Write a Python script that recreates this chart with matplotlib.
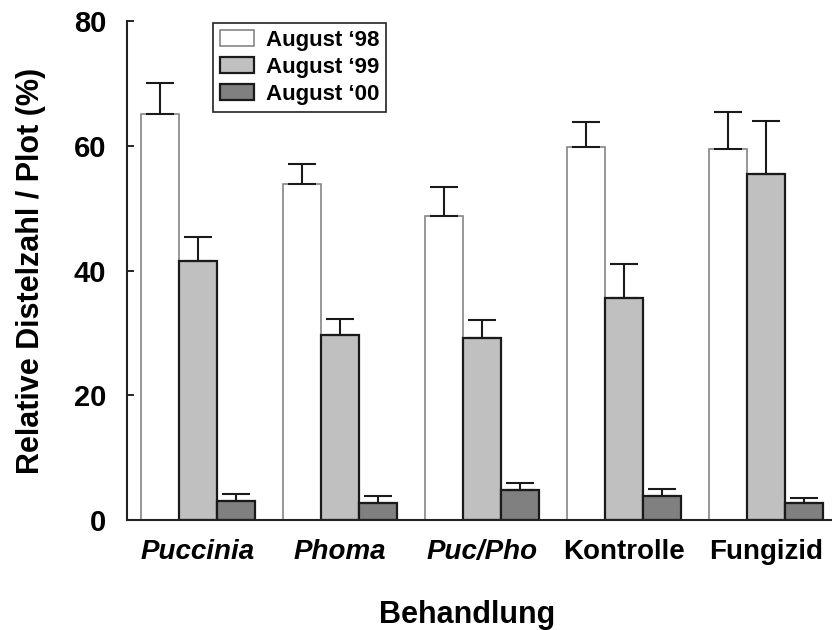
import numpy as np
import matplotlib
matplotlib.use('Agg')
import matplotlib.pyplot as plt

plt.rcParams['font.family'] = ['Liberation Sans', 'DejaVu Sans']
plt.rcParams['font.weight'] = 'bold'
plt.rcParams['axes.labelweight'] = 'bold'

# Daten
behandlung = ['Puccinia', 'Phoma', 'Puc/Pho', 'Kontrolle', 'Fungizid']
kursiv = [True, True, True, False, False]
serien = ['August \u201898', 'August \u201899', 'August \u201800']
aug98 = [65.1, 53.8, 48.8, 59.8, 59.4]
aug98_err = [4.9, 3.2, 4.6, 4.0, 6.0]
aug99 = [41.6, 29.7, 29.2, 35.6, 55.4]
aug99_err = [3.7, 2.5, 2.9, 5.4, 8.6]
aug00 = [3.1, 2.8, 4.8, 3.9, 2.8]
aug00_err = [1.0, 1.1, 1.2, 1.1, 0.8]

fig = plt.figure(figsize=(8.32, 6.30), dpi=100)
ax = fig.add_axes([127/832, 110/630, 705/832, 499/630])

x = np.arange(len(behandlung))
w = 0.268
werte = [aug98, aug99, aug00]
fehler = [aug98_err, aug99_err, aug00_err]
farben = ['white', '#c0c0c0', '#808080']
kanten = ['#858585', '#1a1a1a', '#1a1a1a']
kantenbreite = [1.2, 1.6, 1.6]

for i in range(3):
    pos = x + (i - 1) * w
    ax.bar(pos, werte[i], width=w, color=farben[i], edgecolor=kanten[i],
           linewidth=kantenbreite[i], label=serien[i], zorder=2)
    # nur nach oben gerichtete Fehlerbalken
    ax.errorbar(pos, werte[i], yerr=[np.zeros(len(x)), fehler[i]], fmt='none',
                ecolor='#1a1a1a', elinewidth=1.5, capsize=10, capthick=1.5, zorder=3)

ax.set_xlim(-0.5, 4.465)
ax.set_ylim(0, 80)
ax.set_yticks([0, 20, 40, 60, 80])
ax.tick_params(axis='y', direction='in', length=5, width=1.2, pad=15, labelsize=21)
ax.tick_params(axis='x', length=0, pad=14)
ax.set_xticks(x)
ax.set_xticklabels(behandlung, fontsize=20)
for lab, k in zip(ax.get_xticklabels(), kursiv):
    if k:
        lab.set_style('italic')

for s in ['top', 'right']:
    ax.spines[s].set_visible(False)
for s in ['left', 'bottom']:
    ax.spines[s].set_linewidth(1.5)
    ax.spines[s].set_color('#222222')

ax.set_ylabel('Relative Distelzahl / Plot (%)', fontsize=22, labelpad=20)
ax.set_xlabel('Behandlung', fontsize=22)
ax.xaxis.set_label_coords(0.482, -0.16)

leg = ax.legend(loc='upper left', bbox_to_anchor=(0.122, 0.996), borderaxespad=0,
                fancybox=False, edgecolor='#222222', framealpha=1, fontsize=16,
                handlelength=1.55, handleheight=0.75, labelspacing=0.28,
                borderpad=0.3, handletextpad=0.55)
leg.get_frame().set_linewidth(1.2)

fig.savefig('out.png', dpi=100)
